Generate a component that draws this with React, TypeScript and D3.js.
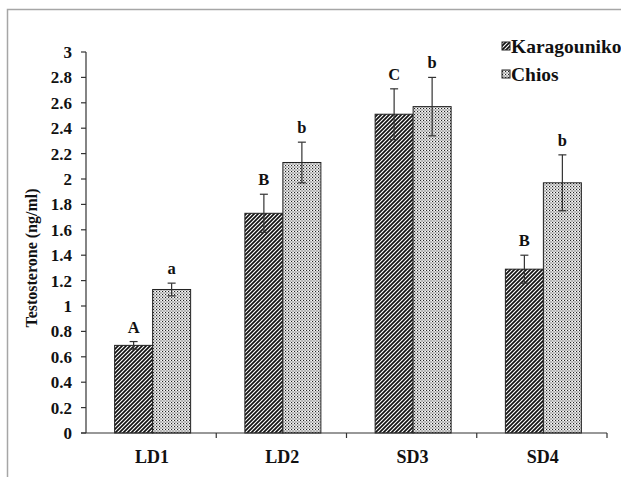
import React from "react";
import * as d3 from "d3";

const categories = ["LD1", "LD2", "SD3", "SD4"];
const seriesNames = ["Karagouniko", "Chios"];
const karagounikoValues = [0.69, 1.73, 2.51, 1.29];
const karagounikoErrors = [0.03, 0.15, 0.2, 0.11];
const chiosValues = [1.13, 2.13, 2.57, 1.97];
const chiosErrors = [0.05, 0.16, 0.23, 0.22];
const karagounikoLetters = ["A", "B", "C", "B"];
const chiosLetters = ["a", "b", "b", "b"];
const yTicks = [0, 0.2, 0.4, 0.6, 0.8, 1, 1.2, 1.4, 1.6, 1.8, 2, 2.2, 2.4, 2.6, 2.8, 3];

const W = 621;
const H = 477;
const left = 86;
const right = 607;
const top = 52;
const bottom = 433;
const font = "'Liberation Serif', 'Times New Roman', serif";

export default function App() {
  const y = d3.scaleLinear().domain([0, 3]).range([bottom, top]);
  const x = d3.scaleBand<string>().domain(categories).range([left, right]).paddingInner(0).paddingOuter(0);
  const barW = 38;
  const series = [
    { name: seriesNames[0], values: karagounikoValues, errors: karagounikoErrors, letters: karagounikoLetters, fill: "url(#hatch)" },
    { name: seriesNames[1], values: chiosValues, errors: chiosErrors, letters: chiosLetters, fill: "url(#dots)" },
  ];
  const fmt = (v: number) => (Number.isInteger(v) ? String(v) : String(+v.toFixed(1)));
  return (
    <svg width={W} height={H} style={{ position: "absolute", left: 0, top: 0, display: "block" }}>
      <defs>
        <pattern id="hatch" patternUnits="userSpaceOnUse" width="4" height="4">
          <rect width="4" height="4" fill="#ffffff" />
          <path d="M-1,1 l2,-2 M0,4 l4,-4 M3,5 l2,-2" stroke="#111" strokeWidth="1.7" />
        </pattern>
        <pattern id="dots" patternUnits="userSpaceOnUse" width="3" height="3">
          <rect width="3" height="3" fill="#d9d9d9" />
          <rect x="0" y="0" width="1" height="1" fill="#222" />
          <rect x="1.5" y="1.5" width="1" height="1" fill="#555" />
          <rect x="2" y="0" width="1" height="1" fill="#fff" />
        </pattern>
      </defs>
      <rect x={7.5} y={9.5} width={W} height={H} fill="white" stroke="#a6a6a6" strokeWidth={1.5} />
      {categories.map((c, i) =>
        series.map((s, j) => {
          const bx = (x(c) as number) + x.bandwidth() / 2 + 1.5 - barW + j * barW;
          const v = s.values[i];
          const e = s.errors[i];
          const cx = bx + barW / 2;
          return (
            <g key={c + j}>
              <rect x={bx} y={y(v)} width={barW} height={bottom - y(v)} fill={s.fill} stroke="#222" strokeWidth={1} />
              <line x1={cx} x2={cx} y1={y(v - e)} y2={y(v + e)} stroke="#333" strokeWidth={1.2} />
              <line x1={cx - 4} x2={cx + 4} y1={y(v + e)} y2={y(v + e)} stroke="#333" strokeWidth={1.2} />
              <line x1={cx - 4} x2={cx + 4} y1={y(v - e)} y2={y(v - e)} stroke="#333" strokeWidth={1.2} />
              <text x={cx} y={y(v + e) - 9} textAnchor="middle" fontFamily={font} fontWeight="bold" fontSize={16.5} fill="#111">
                {s.letters[i]}
              </text>
            </g>
          );
        })
      )}
      {/* y axis */}
      <line x1={left} x2={left} y1={top} y2={bottom} stroke="#333" strokeWidth={1.2} />
      {yTicks.map((t) => (
        <g key={t}>
          <line x1={left - 5} x2={left} y1={y(t)} y2={y(t)} stroke="#333" strokeWidth={1.2} />
          <text x={72} y={y(t)} dy="0.35em" textAnchor="end" fontFamily={font} fontWeight="bold" fontSize={17} fill="#111">
            {fmt(t)}
          </text>
        </g>
      ))}
      {/* x axis */}
      <line x1={left - 5} x2={right} y1={bottom} y2={bottom} stroke="#333" strokeWidth={1.2} />
      {categories.map((c, i) => (
        <g key={c}>
          <line x1={(x(c) as number) + x.bandwidth()} x2={(x(c) as number) + x.bandwidth()} y1={bottom} y2={bottom + 5} stroke="#333" strokeWidth={1.2} />
          <text x={(x(c) as number) + x.bandwidth() / 2 + 1} y={463} textAnchor="middle" fontFamily={font} fontWeight="bold" fontSize={18} fill="#111">
            {c}
          </text>
        </g>
      ))}
      <text transform={`translate(37,258) rotate(-90)`} textAnchor="middle" fontFamily={font} fontWeight="bold" fontSize={16} fill="#111">
        Testosterone (ng/ml)
      </text>
      {/* legend */}
      {series.map((s, j) => (
        <g key={s.name} transform={`translate(502,${46 + j * 28})`}>
          <rect x={0} y={-4} width={8} height={8} fill={s.fill} stroke="#222" strokeWidth={1} />
          <text x={9} y={0} dy="0.35em" fontFamily={font} fontWeight="bold" fontSize={19.5} fill="#111">
            {s.name}
          </text>
        </g>
      ))}
    </svg>
  );
}
